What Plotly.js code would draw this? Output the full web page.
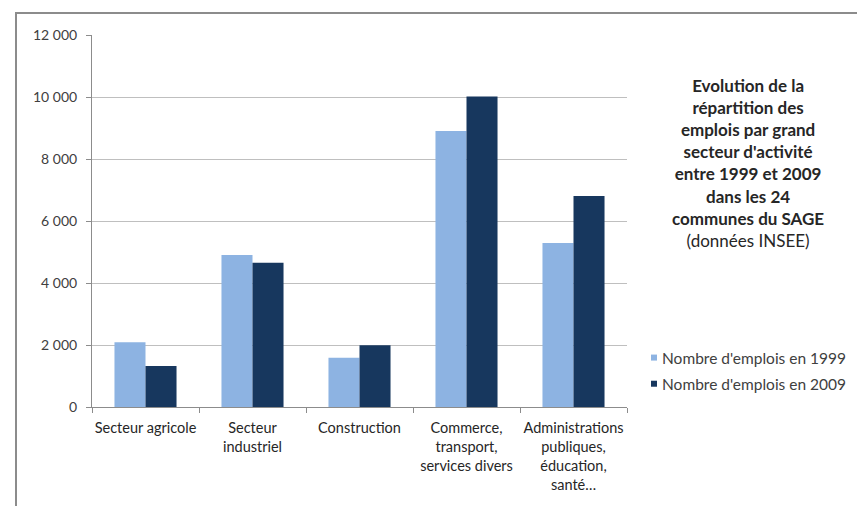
<!DOCTYPE html>
<html>
<head>
<meta charset="utf-8">
<script src="https://cdn.plot.ly/plotly-3.0.1.min.js"></script>
<style>
html,body{margin:0;padding:0;background:#fff;overflow:hidden;}
#wrap{position:relative;width:857px;height:506px;overflow:hidden;}
#chart{position:absolute;left:0;top:0;width:857px;height:506px;}
#frame{position:absolute;left:15px;top:12px;width:1200px;height:1200px;border-left:2px solid #8c8c8c;border-top:2px solid #8c8c8c;pointer-events:none;}
.legendpoints path{transform:translate(32px,0) scale(0.5);}
</style>
</head>
<body>
<div id="wrap"><div id="chart"></div><div id="frame"></div></div>
<script>
const categories = [
  "Secteur agricole",
  "Secteur<br>industriel",
  "Construction",
  "Commerce,<br>transport,<br>services divers",
  "Administrations<br>publiques,<br>éducation,<br>santé…"
];
const emplois1999 = [2090, 4900, 1590, 8900, 5290];
const emplois2009 = [1320, 4650, 1990, 10020, 6810];
const seriesNames = ["Nombre d'emplois en 1999", "Nombre d'emplois en 2009"];
const yTicks = [0, 2000, 4000, 6000, 8000, 10000, 12000];
const chartTitle = "<b>Evolution de la<br>répartition des<br>emplois par grand<br>secteur d'activité<br>entre 1999 et 2009<br>dans les 24<br>communes du SAGE</b><br>(données INSEE)";

const FONT = "Lato, 'Open Sans', sans-serif";
const L = 92, R = 627, T = 35, B = 407, W = 857, H = 506;
const px2x = p => (p - L) / (R - L);
const px2y = p => (B - p) / (B - T);

const traces = [
  {type: 'bar', name: seriesNames[0], x: categories, y: emplois1999,
   marker: {color: '#8db3e2'}, legendgroup: 'a'},
  {type: 'bar', name: seriesNames[1], x: categories, y: emplois2009,
   marker: {color: '#17375e'}, legendgroup: 'b'}
];

const layout = {
  width: W, height: H,
  margin: {l: L, r: W - R, t: T, b: H - B, pad: 0, autoexpand: false},
  paper_bgcolor: '#fff', plot_bgcolor: '#fff',
  separators: ', ',
  font: {family: FONT, size: 14, color: '#404040'},
  barmode: 'group', bargap: 0.42, bargroupgap: 0,
  showlegend: true,
  legend: {x: px2x(622), y: px2y(341), xanchor: 'left', yanchor: 'top',
    font: {family: FONT, size: 15.5, color: '#404040'},
    traceorder: 'grouped', tracegroupgap: 3, bgcolor: 'rgba(0,0,0,0)'},
  xaxis: {type: 'category', showgrid: false, showline: true, linecolor: '#8c8c8c', linewidth: 1,
    ticks: 'outside', tickson: 'boundaries', ticklen: 5, tickcolor: '#8c8c8c',
    tickangle: 0, automargin: false, ticklabelstandoff: 8,
    tickfont: {family: FONT, size: 14.5, color: '#262626'}, fixedrange: true},
  yaxis: {range: [0, 12000], tickvals: yTicks, tickformat: ',d', showgrid: true,
    gridcolor: '#bfbfbf', gridwidth: 1, showline: true, linecolor: '#8c8c8c', linewidth: 1,
    ticks: 'outside', ticklen: 5, tickcolor: '#8c8c8c', zeroline: false,
    automargin: false, ticklabelstandoff: 6,
    tickfont: {family: FONT, size: 14, color: '#404040'}, fixedrange: true},
  annotations: [{
    text: chartTitle, xref: 'paper', yref: 'paper', showarrow: false,
    x: px2x(748), y: px2y(163), xanchor: 'center', yanchor: 'middle', align: 'center',
    font: {family: FONT, size: 17, color: '#262626'}
  }]
};

Plotly.newPlot('chart', traces, layout, {staticPlot: true, displayModeBar: false});
</script>
</body>
</html>
